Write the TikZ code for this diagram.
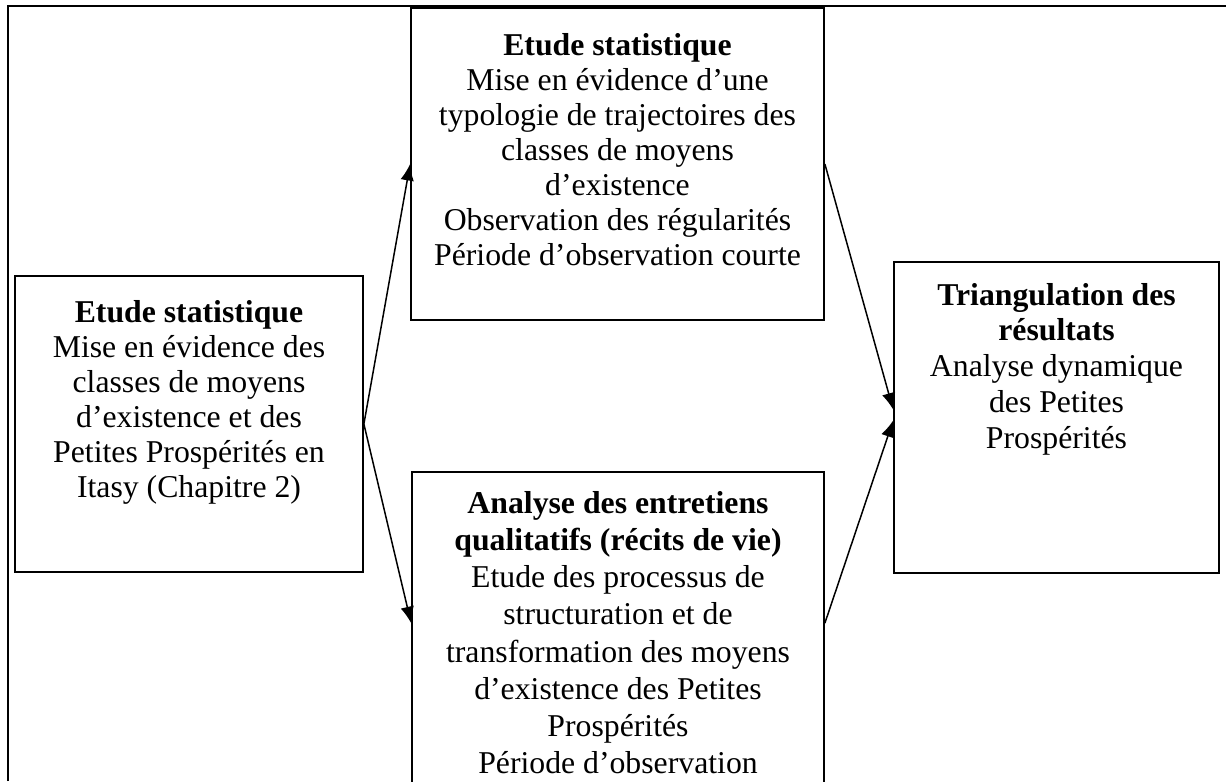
\documentclass[tikz,border=0pt]{standalone}
\usepackage{fontspec}
\setmainfont{Liberation Serif}
\usepackage{tikz}
\usetikzlibrary{arrows.meta,positioning}

\tikzset{txt/.style={align=center, inner sep=0pt, font=\fontsize{12.7}{14}\selectfont}}
\tikzset{flow/.style={-{Latex[length=6.6pt,width=5.4pt]}, line width=.6pt}}

\begin{document}
\begin{tikzpicture}[x=0.4pt, y=-0.4pt, line width=.7pt]
\clip (0,0) rectangle (1226,781);
\draw[line width=.8pt] (8,781)--(8,6)--(1226,6); %%
\begin{scope}[shape=rectangle]
\tikzstyle{every node}=[draw, inner sep=0pt] %%
\node[minimum width=139.2pt, minimum height=118.4pt] (e0) at (189,424) {}; %%
\node[minimum width=165.2pt, minimum height=124.8pt] (e1) at (617.5,164) {}; %%
\node[minimum width=164.8pt, minimum height=136pt] (e2) at (618,642) {}; %%
\node[minimum width=130pt, minimum height=124.4pt] (e3) at (1056.5,417.5) {};
\end{scope}
% texts in the boxes
\node[txt, below=9.6pt of e0.north] (t0) {\textbf{Etude statistique}\\Mise en évidence des\\classes de moyens\\d’existence et des\\Petites Prospérités en\\Itasy (Chapitre 2)}; %%
\node[txt, below=10pt of e1.north] (t1) {\textbf{Etude statistique}\\Mise en évidence d’une\\typologie de trajectoires des\\classes de moyens\\d’existence\\Observation des régularités\\Période d’observation courte}; %%
\node[txt, font=\fontsize{12.7}{14.9}\selectfont, below=7.6pt of e2.north] (t2) {\textbf{Analyse des entretiens}\\\textbf{qualitatifs (récits de vie)}\\Etude des processus de\\structuration et de\\transformation des moyens\\d’existence des Petites\\Prospérités\\Période d’observation}; %%
\node[txt, font=\fontsize{12.7}{14.3}\selectfont, below=8.4pt of e3.north] (t3) {\textbf{Triangulation des}\\\textbf{résultats}\\Analyse dynamique\\des Petites\\Prospérités};
\draw[flow] (e0.east)--(e1.west); %%
\draw[flow] (e0.east)--([shift={(0,152)}]e2.north west); %%
\draw[flow] (e1.east)--([shift={(0,-8)}]e3.west); %%
\draw[flow] ([shift={(0,152)}]e2.north east)--([shift={(0,3)}]e3.west); %%
\end{tikzpicture}
\end{document}
